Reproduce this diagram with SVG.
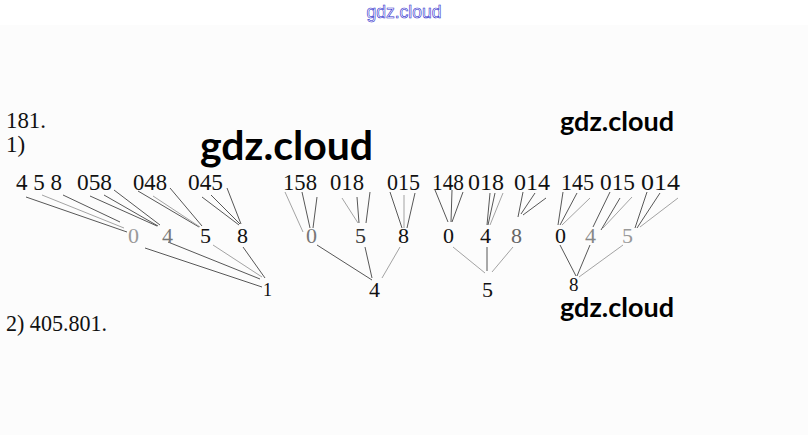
<svg xmlns="http://www.w3.org/2000/svg" width="808" height="435" viewBox="0 0 808 435">
<style>
.t{font-family:"Liberation Serif","Times New Roman",serif;font-size:23px;fill:#111}
.n{font-family:"Liberation Serif","Times New Roman",serif;font-size:22px;fill:#111}
.wm{font-family:Lato,"Noto Sans",sans-serif;font-weight:bold;fill:#000}
.top{font-family:"Liberation Sans",Arial,sans-serif;font-size:18px;fill:#fff;stroke:#2a2acc;stroke-width:0.6}
#connectors line{stroke:#444;stroke-width:0.9}
#connectors line.l{stroke:#999}
</style>
<rect x="0" y="0" width="808" height="435" fill="#fcfcfc"/>
<rect x="0" y="0" width="808" height="25" fill="#fff"/>
<text class="top" x="404" y="18" text-anchor="middle" textLength="75" lengthAdjust="spacingAndGlyphs">gdz.cloud</text>

<g id="header">
<text class="t" x="6" y="128" textLength="40" lengthAdjust="spacingAndGlyphs">181.</text>
<text class="t" x="6" y="152">1)</text>
</g>

<g id="connectors">
<!-- group 1 -->
<line x1="26" y1="197" x2="127" y2="232"/>
<line x1="42" y1="195" x2="124" y2="228" class="l"/>
<line x1="63" y1="195" x2="120" y2="222"/>
<line x1="90" y1="196" x2="157" y2="226"/>
<line x1="104" y1="195" x2="158" y2="226"/>
<line x1="114" y1="190" x2="160" y2="225"/>
<line x1="138" y1="191" x2="199" y2="227"/>
<line x1="153" y1="196" x2="200" y2="227" class="l"/>
<line x1="170" y1="188" x2="202" y2="226"/>
<line x1="202" y1="197" x2="239" y2="225"/>
<line x1="211" y1="195" x2="240" y2="224"/>
<line x1="227" y1="188" x2="241" y2="224"/>
<line x1="145" y1="248" x2="262" y2="287"/>
<line x1="168" y1="242" x2="260" y2="279"/>
<line x1="213" y1="245" x2="262" y2="277" class="l"/>
<line x1="243" y1="247" x2="265" y2="278"/>
<!-- group 2 -->
<line x1="285" y1="192" x2="303" y2="232" class="l"/>
<line x1="302" y1="192" x2="310" y2="228"/>
<line x1="317" y1="197" x2="313" y2="228"/>
<line x1="342" y1="198" x2="358" y2="223" class="l"/>
<line x1="357" y1="197" x2="359" y2="223"/>
<line x1="370" y1="192" x2="366" y2="223"/>
<line x1="390" y1="192" x2="402" y2="228"/>
<line x1="404" y1="195" x2="404" y2="228" class="l"/>
<line x1="415" y1="193" x2="407" y2="228"/>
<line x1="317" y1="245" x2="372" y2="280"/>
<line x1="365" y1="247" x2="372" y2="278"/>
<line x1="400" y1="247" x2="382" y2="278" class="l"/>
<!-- group 3 -->
<line x1="435" y1="190" x2="448" y2="222"/>
<line x1="452" y1="190" x2="451" y2="222"/>
<line x1="463" y1="192" x2="452" y2="222"/>
<line x1="490" y1="193" x2="487" y2="225"/>
<line x1="495" y1="193" x2="488" y2="225"/>
<line x1="503" y1="193" x2="490" y2="225" class="l"/>
<line x1="523" y1="192" x2="518" y2="217"/>
<line x1="535" y1="193" x2="521" y2="214"/>
<line x1="546" y1="198" x2="523" y2="215"/>
<line x1="453" y1="247" x2="485" y2="273" class="l"/>
<line x1="487" y1="247" x2="487" y2="271"/>
<line x1="513" y1="247" x2="492" y2="272" class="l"/>
<!-- group 4 -->
<line x1="563" y1="192" x2="558" y2="225"/>
<line x1="577" y1="193" x2="560" y2="225"/>
<line x1="590" y1="198" x2="562" y2="225" class="l"/>
<line x1="610" y1="192" x2="593" y2="227"/>
<line x1="620" y1="198" x2="601" y2="230"/>
<line x1="632" y1="197" x2="603" y2="228" class="l"/>
<line x1="647" y1="192" x2="635" y2="228"/>
<line x1="660" y1="193" x2="637" y2="228"/>
<line x1="678" y1="198" x2="640" y2="227" class="l"/>
<line x1="560" y1="245" x2="576" y2="276"/>
<line x1="590" y1="245" x2="577" y2="276"/>
<line x1="623" y1="245" x2="579" y2="277" class="l"/>
</g>

<g id="labels-row1">
<text class="t" x="16" y="190" textLength="46" lengthAdjust="spacingAndGlyphs">4 5 8</text>
<text class="t" x="77" y="190" textLength="35" lengthAdjust="spacingAndGlyphs">058</text>
<text class="t" x="133" y="190" textLength="34" lengthAdjust="spacingAndGlyphs">048</text>
<text class="t" x="188" y="190" textLength="35" lengthAdjust="spacingAndGlyphs">045</text>
<text class="t" x="283" y="190" textLength="34" lengthAdjust="spacingAndGlyphs">158</text>
<text class="t" x="330" y="190" textLength="34" lengthAdjust="spacingAndGlyphs">018</text>
<text class="t" x="387" y="190" textLength="33" lengthAdjust="spacingAndGlyphs">015</text>
<text class="t" x="432" y="190" textLength="32" lengthAdjust="spacingAndGlyphs">148</text>
<text class="t" x="468" y="190" textLength="36" lengthAdjust="spacingAndGlyphs">018</text>
<text class="t" x="514" y="190" textLength="36" lengthAdjust="spacingAndGlyphs">014</text>
<text class="t" x="561" y="190" textLength="33" lengthAdjust="spacingAndGlyphs">145</text>
<text class="t" x="600" y="190" textLength="35" lengthAdjust="spacingAndGlyphs">015</text>
<text class="t" x="641" y="190" textLength="39" lengthAdjust="spacingAndGlyphs">014</text>
</g>

<g id="group1">
<text class="n" x="128" y="243" style="fill:#999">0</text>
<text class="n" x="162" y="243" style="fill:#777">4</text>
<text class="n" x="200" y="243">5</text>
<text class="n" x="237" y="243">8</text>
<text class="n" x="263" y="296" style="font-size:18px">1</text>
</g>
<g id="group2">
<text class="n" x="306" y="243" style="fill:#777">0</text>
<text class="n" x="355" y="243" style="fill:#333">5</text>
<text class="n" x="398" y="243">8</text>
<text class="n" x="369" y="297">4</text>
</g>
<g id="group3">
<text class="n" x="443" y="243">0</text>
<text class="n" x="480" y="243">4</text>
<text class="n" x="511" y="243" style="fill:#666">8</text>
<text class="n" x="482" y="297">5</text>
</g>
<g id="group4">
<text class="n" x="555" y="243">0</text>
<text class="n" x="585" y="243" style="fill:#888">4</text>
<text class="n" x="622" y="243" style="fill:#999">5</text>
<text class="n" x="569" y="291" style="font-size:19px">8</text>
</g>

<g id="answer">
<text class="t" x="6" y="331" textLength="101" lengthAdjust="spacingAndGlyphs">2) 405.801.</text>
</g>

<g id="watermarks">
<text class="wm" x="200" y="160" font-size="41">gdz.cloud</text>
<text class="wm" x="560" y="131" font-size="27">gdz.cloud</text>
<text class="wm" x="560" y="317" font-size="27">gdz.cloud</text>
</g>
</svg>
